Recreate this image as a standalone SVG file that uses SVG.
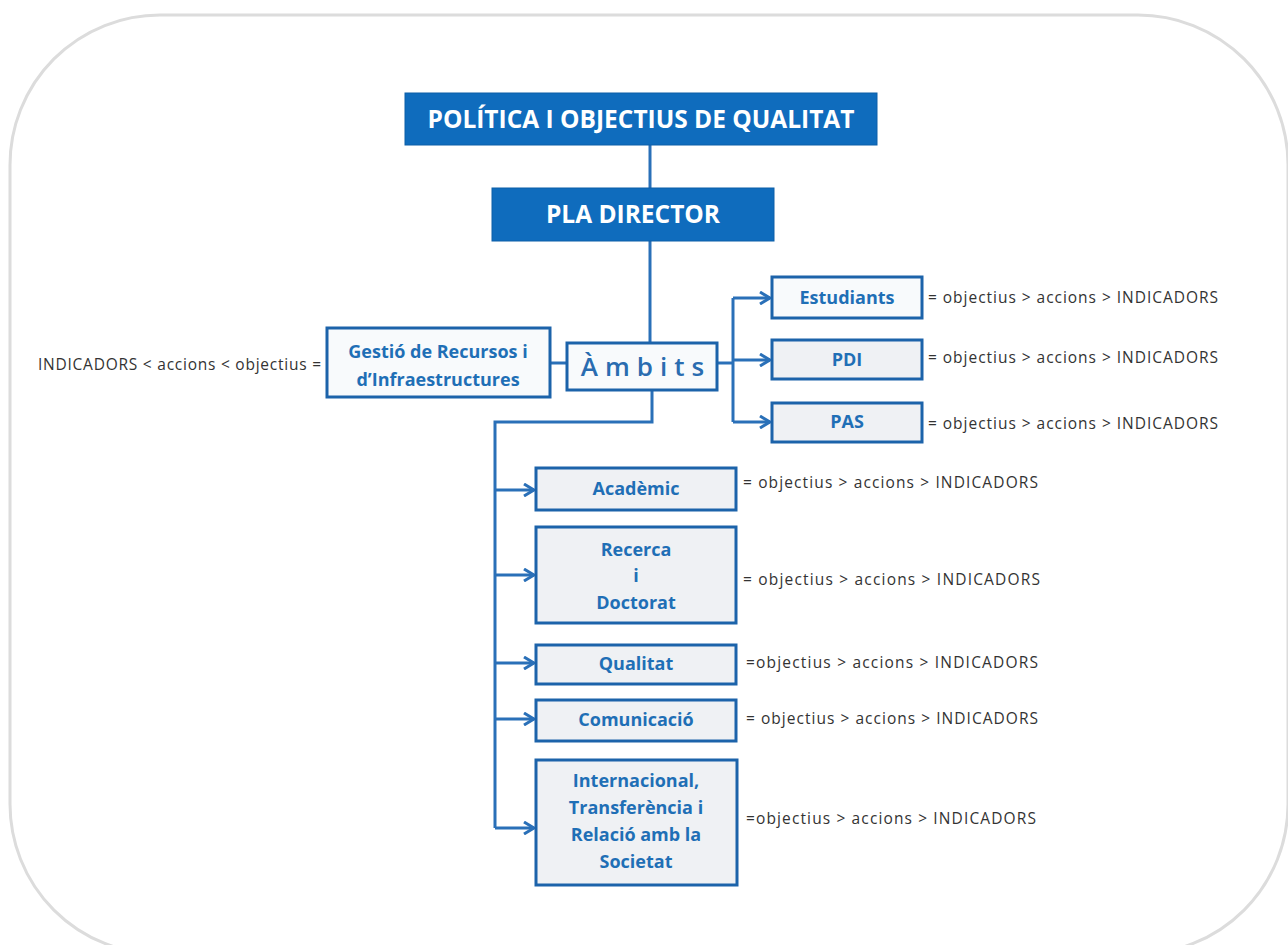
<svg xmlns="http://www.w3.org/2000/svg" width="1288" height="945" viewBox="0 0 1288 945">
<style>
.frame{fill:#fff;stroke:#dcdcdc;stroke-width:3}
.hdr{fill:#0f6cbd;stroke:#0c5fa8;stroke-width:1}
.hdrt{fill:#fff;font-family:"Open Sans",sans-serif;font-weight:700;font-size:24.5px;text-anchor:middle}
.box{fill:#eff1f4;stroke:#1c63aa;stroke-width:3}
.boxw{fill:#f8fafc;stroke:#1c63aa;stroke-width:3}
.bt{fill:#1f6fb6;font-family:"Open Sans",sans-serif;font-weight:700;font-size:18px;text-anchor:middle}
.amb{fill:#2a6cb0;font-family:"Open Sans",sans-serif;font-weight:600;font-size:26px;letter-spacing:7px;text-anchor:middle}
.lbl{fill:#333;font-family:"Open Sans",sans-serif;font-size:15.5px}
.con{fill:none;stroke:#2a70b8;stroke-width:3}
</style>
<defs>
<marker id="arr" viewBox="0 0 14 14" refX="12" refY="7" markerWidth="14" markerHeight="14" markerUnits="userSpaceOnUse" orient="auto">
<path d="M2,1 L12,7 L2,13" fill="none" stroke="#2a70b8" stroke-width="3"/>
</marker>
</defs>
<rect class="frame" x="10" y="15" width="1278" height="939" rx="150" ry="150"/>
<g id="connectors">
<line class="con" x1="650" y1="145" x2="650" y2="188"/>
<line class="con" x1="650" y1="241" x2="650" y2="343"/>
<line class="con" x1="550" y1="363" x2="567" y2="363"/>
<path class="con" d="M717,363 H733"/>
<path class="con" d="M733,298 V422"/>
<path class="con" d="M733,298 H770" marker-end="url(#arr)"/>
<path class="con" d="M733,360 H770" marker-end="url(#arr)"/>
<path class="con" d="M733,422 H770" marker-end="url(#arr)"/>
<path class="con" d="M652,390 V422 H495 V828"/>
<path class="con" d="M495,490 H534" marker-end="url(#arr)"/>
<path class="con" d="M495,575 H534" marker-end="url(#arr)"/>
<path class="con" d="M495,663 H534" marker-end="url(#arr)"/>
<path class="con" d="M495,719 H534" marker-end="url(#arr)"/>
<path class="con" d="M495,828 H534" marker-end="url(#arr)"/>
</g>
<g id="politica">
<rect class="hdr" x="405" y="93" width="472" height="52"/>
<text class="hdrt" x="641" y="128">POLÍTICA I OBJECTIUS DE QUALITAT</text>
</g>
<g id="pla">
<rect class="hdr" x="492" y="188" width="282" height="53"/>
<text class="hdrt" x="633" y="223">PLA DIRECTOR</text>
</g>
<g id="ambits">
<rect class="boxw" x="567" y="343" width="150" height="47"/>
<text class="amb" x="646" y="376">Àmbits</text>
</g>
<g id="gestio">
<rect class="boxw" x="327" y="328" width="223" height="69"/>
<text class="bt" x="438" y="358">Gestió de Recursos i</text>
<text class="bt" x="438" y="386">d’Infraestructures</text>
<text class="lbl" x="38" y="370" textLength="283" lengthAdjust="spacing">INDICADORS &lt; accions &lt; objectius =</text>
</g>
<g id="estudiants">
<rect class="boxw" x="772" y="277" width="150" height="41"/>
<text class="bt" x="847" y="304">Estudiants</text>
<text class="lbl" x="928" y="303" textLength="290" lengthAdjust="spacing">= objectius &gt; accions &gt; INDICADORS</text>
</g>
<g id="pdi">
<rect class="box" x="772" y="340" width="150" height="39"/>
<text class="bt" x="847" y="366">PDI</text>
<text class="lbl" x="928" y="363" textLength="290" lengthAdjust="spacing">= objectius &gt; accions &gt; INDICADORS</text>
</g>
<g id="pas">
<rect class="box" x="772" y="403" width="150" height="39"/>
<text class="bt" x="847" y="428">PAS</text>
<text class="lbl" x="928" y="429" textLength="290" lengthAdjust="spacing">= objectius &gt; accions &gt; INDICADORS</text>
</g>
<g id="academic">
<rect class="box" x="536" y="468" width="200" height="42"/>
<text class="bt" x="636" y="495">Acadèmic</text>
<text class="lbl" x="743" y="488" textLength="295" lengthAdjust="spacing">= objectius &gt; accions &gt; INDICADORS</text>
</g>
<g id="recerca">
<rect class="box" x="536" y="527" width="200" height="96"/>
<text class="bt" x="636" y="556">Recerca</text>
<text class="bt" x="636" y="582">i</text>
<text class="bt" x="636" y="609">Doctorat</text>
<text class="lbl" x="743" y="585" textLength="297" lengthAdjust="spacing">= objectius &gt; accions &gt; INDICADORS</text>
</g>
<g id="qualitat">
<rect class="box" x="536" y="645" width="200" height="39"/>
<text class="bt" x="636" y="670">Qualitat</text>
<text class="lbl" x="746" y="668" textLength="292" lengthAdjust="spacing">=objectius &gt; accions &gt; INDICADORS</text>
</g>
<g id="comunicacio">
<rect class="box" x="536" y="700" width="200" height="41"/>
<text class="bt" x="636" y="726">Comunicació</text>
<text class="lbl" x="746" y="724" textLength="292" lengthAdjust="spacing">= objectius &gt; accions &gt; INDICADORS</text>
</g>
<g id="internacional">
<rect class="box" x="536" y="760" width="201" height="125"/>
<text class="bt" x="636" y="787">Internacional,</text>
<text class="bt" x="636" y="814">Transferència i</text>
<text class="bt" x="636" y="841">Relació amb la</text>
<text class="bt" x="636" y="868">Societat</text>
<text class="lbl" x="746" y="824" textLength="290" lengthAdjust="spacing">=objectius &gt; accions &gt; INDICADORS</text>
</g>
</svg>
